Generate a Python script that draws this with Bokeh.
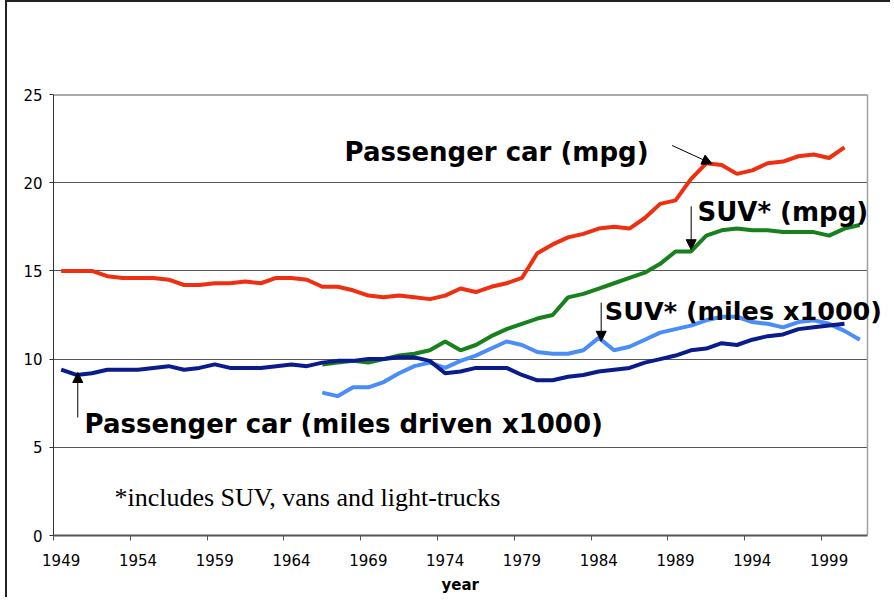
from bokeh.plotting import figure
from bokeh.models import (Range1d, FixedTicker, Label, Arrow, NormalHead, Title)
from bokeh.embed import file_html
from bokeh.resources import INLINE

# ---- data ----
car_years = list(range(1949, 2001))
car_mpg = [15.0, 15.0, 15.0, 14.7, 14.6, 14.6, 14.6, 14.5, 14.2, 14.2,
           14.3, 14.3, 14.4, 14.3, 14.6, 14.6, 14.5, 14.1, 14.1, 13.9,
           13.6, 13.5, 13.6, 13.5, 13.4, 13.6, 14.0, 13.8, 14.1, 14.3,
           14.6, 16.0, 16.5, 16.9, 17.1, 17.4, 17.5, 17.4, 18.0, 18.8,
           19.0, 20.2, 21.1, 21.0, 20.5, 20.7, 21.1, 21.2, 21.5, 21.6,
           21.4, 22.0]
car_miles = [9.4, 9.1, 9.2, 9.4, 9.4, 9.4, 9.5, 9.6, 9.4, 9.5,
             9.7, 9.5, 9.5, 9.5, 9.6, 9.7, 9.6, 9.8, 9.9, 9.9,
             10.0, 10.0, 10.1, 10.1, 9.9, 9.2, 9.3, 9.5, 9.5, 9.5,
             9.1, 8.8, 8.8, 9.0, 9.1, 9.3, 9.4, 9.5, 9.8, 10.0,
             10.2, 10.5, 10.6, 10.9, 10.8, 11.1, 11.3, 11.4, 11.7, 11.8,
             11.9, 12.0]
suv_years = list(range(1966, 2002))
suv_mpg = [9.7, 9.8, 9.9, 9.8, 10.0, 10.2, 10.3, 10.5, 11.0, 10.5,
           10.8, 11.3, 11.7, 12.0, 12.3, 12.5, 13.5, 13.7, 14.0, 14.3,
           14.6, 14.9, 15.4, 16.1, 16.1, 17.0, 17.3, 17.4, 17.3, 17.3,
           17.2, 17.2, 17.2, 17.0, 17.4, 17.6]
suv_miles = [8.1, 7.9, 8.4, 8.4, 8.7, 9.2, 9.6, 9.8, 9.5, 9.9,
             10.2, 10.6, 11.0, 10.8, 10.4, 10.3, 10.3, 10.5, 11.2, 10.5,
             10.7, 11.1, 11.5, 11.7, 11.9, 12.2, 12.4, 12.4, 12.1, 12.0,
             11.8, 12.1, 12.2, 12.0, 11.6, 11.1]
x_tick_years = list(range(1949, 2002, 5))
y_ticks = [0, 5, 10, 15, 20, 25]

FONT = "DejaVu Sans"

# category axis: first/last category edges
X0, X1 = car_years[0] - 0.5, suv_years[-1] + 0.5
Y0, Y1 = y_ticks[0], y_ticks[-1]
# frame widened to the right so the right-hand label is not clipped
X_END = X0 + (X1 - X0) * 839.0 / 814.0

p = figure(width=885, height=597, output_backend="svg", toolbar_location=None,
           x_range=Range1d(X0, X_END), y_range=Range1d(Y0, Y1),
           min_border_left=46, min_border_right=0, min_border_top=92,
           min_border_bottom=64)
p.styles = {"margin-left": "7px", "margin-top": "2px",
            "box-shadow": "-2px -2px 0px 0px #222222"}
p.background_fill_color = "white"
p.border_fill_color = "white"
p.outline_line_color = None

# axes
xa = p.xaxis[0]
xa.bounds = (X0, X1)
xa.ticker = FixedTicker(ticks=x_tick_years, minor_ticks=[y - 0.5 for y in x_tick_years])
xa.major_tick_out = 0
xa.major_tick_in = 0
xa.minor_tick_out = 5
xa.minor_tick_in = 0
xa.minor_tick_line_color = "#555555"
xa.axis_line_color = "#555555"
xa.axis_line_width = 2
xa.major_label_text_font = FONT
xa.major_label_text_font_size = "15px"
xa.major_label_text_color = "black"
xa.major_label_standoff = 13

ya = p.yaxis[0]
ya.ticker = FixedTicker(ticks=y_ticks, minor_ticks=[])
ya.major_tick_out = 4
ya.major_tick_in = 0
ya.major_tick_line_color = "#333333"
ya.axis_line_color = "#333333"
ya.axis_line_width = 1
ya.major_label_text_font = FONT
ya.major_label_text_font_size = "15px"
ya.major_label_text_color = "black"
ya.major_label_standoff = 7

p.add_layout(Title(text="year", align="left", offset=388, standoff=10,
                   text_font=FONT, text_font_size="15px", text_font_style="bold",
                   text_color="black"), "below")

p.xgrid.visible = False
p.ygrid.grid_line_color = "#555555"
p.ygrid.grid_line_width = 1

# hide the gridlines beyond the plot area, draw plot-area top/right edges
p.quad(left=[X1], right=[X_END + 1], bottom=[Y0 - 1], top=[Y1 + 1],
       fill_color="white", line_color=None)
p.segment(x0=[X0, X1], y0=[Y1, Y0], x1=[X1, X1], y1=[Y1, Y1],
          line_color=["#555555", "#a0a0a0"], line_width=[2, 1.5])

# lines
p.line(car_years, car_mpg, line_color="#EE3010", line_width=4)
p.line(suv_years, suv_mpg, line_color="#18801C", line_width=4)
p.line(suv_years, suv_miles, line_color="#4A8CF8", line_width=4)
p.line(car_years, car_miles, line_color="#0A1C8C", line_width=4)

# annotations
def lab(x, y, t, size="26px", font=FONT, style="bold"):
    p.add_layout(Label(x=x, y=y, text=t, text_font=font, text_font_size=size,
                       text_font_style=style, text_color="black",
                       text_baseline="alphabetic", text_align="left"))

lab(1967.45, 21.75, "Passenger car (mpg)")
lab(1990.43, 18.32, "SUV* (mpg)")
lab(1984.4, 12.75, "SUV* (miles x1000)", size="25.5px")
lab(1950.52, 6.30, "Passenger car (miles driven x1000)")
lab(1952.47, 2.16, "*includes SUV, vans and light-trucks", size="26px",
    font="Liberation Serif", style="normal")

def arr(x0, y0, x1, y1):
    p.add_layout(Arrow(end=NormalHead(size=10, fill_color="black", line_color="black"),
                       x_start=x0, y_start=y0, x_end=x1, y_end=y1,
                       line_color="black", line_width=1))

arr(1988.78, 22.11, 1991.38, 21.07)
arr(1990.02, 18.66, 1990.02, 16.2)
arr(1984.16, 13.2, 1984.16, 11.01)
arr(1950.08, 6.69, 1950.08, 9.24)

open("out.html", "w").write(file_html(p, INLINE))
